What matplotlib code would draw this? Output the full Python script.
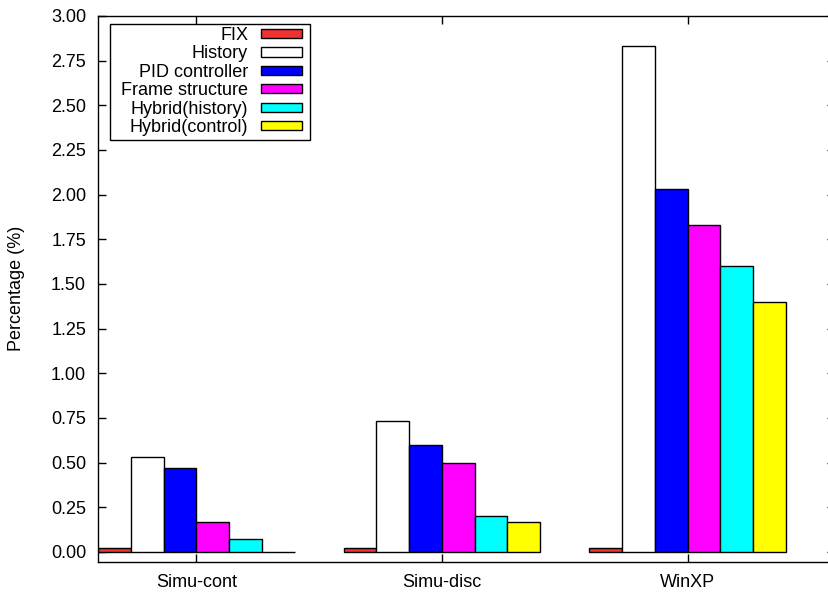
import matplotlib
matplotlib.use("Agg")
import matplotlib.pyplot as plt
from matplotlib.patches import Rectangle
import numpy as np

plt.rcParams['font.family'] = ['Liberation Sans', 'DejaVu Sans']
plt.rcParams['font.size'] = 13

# Workloads on the x axis
categories = ["Simu-cont", "Simu-disc", "WinXP"]

# Percentage per scheme and workload
series_names = ["FIX", "History", "PID controller", "Frame structure",
                "Hybrid(history)", "Hybrid(control)"]
fix = [0.02, 0.02, 0.02]
history = [0.53, 0.73, 2.83]
pid_controller = [0.47, 0.60, 2.03]
frame_structure = [0.17, 0.50, 1.83]
hybrid_history = [0.07, 0.20, 1.60]
hybrid_control = [0.00, 0.17, 1.40]
series_values = [fix, history, pid_controller, frame_structure,
                 hybrid_history, hybrid_control]
series_colors = ["#f03232", "#ffffff", "#0000ff", "#ff00ff", "#00ffff", "#ffff00"]

y_ticks = np.arange(0, 3.01, 0.25)

W, H = 829, 593
FS = 13
fig = plt.figure(figsize=(W / 100, H / 100), dpi=100)
ax = fig.add_axes([98 / W, 1 - 561.7 / H, 737 / W, (561.7 - 16) / H])

x = np.arange(len(categories))
n = len(series_names)
bar_w = 1 / 7.5
handles = []
for i, (name, vals, col) in enumerate(zip(series_names, series_values, series_colors)):
    offs = (i - (n - 1) / 2) * bar_w
    b = ax.bar(x + offs, vals, width=bar_w, color=col, edgecolor="black",
               linewidth=1.0, label=name, zorder=2)
    handles.append(b)

ax.set_xlim(-0.4, 2.6)
ax.set_ylim(-0.055, 3.0)
ax.set_xticks(x)
ax.set_xticklabels(categories)
ax.set_yticks(y_ticks)
ax.set_yticklabels([f"{v:.2f}" for v in y_ticks])
ax.tick_params(axis="both", direction="in", length=6, width=1.0,
               top=True, right=True, labelsize=FS)
ax.tick_params(axis="y", pad=8.6)
ax.tick_params(axis="x", pad=9.0)
for s in ax.spines.values():
    s.set_linewidth(1.0)

ax.set_ylabel("Percentage (%)", fontsize=FS)
ax.yaxis.set_label_coords(-0.099, 0.5)

# Key box (pixel extents converted to figure fractions)
bx0, by0, bx1, by1 = 110, 24, 310, 140
fig.patches.append(Rectangle((bx0 / W, 1 - by1 / H), (bx1 - bx0) / W, (by1 - by0) / H,
                             transform=fig.transFigure, facecolor="white",
                             edgecolor="black", linewidth=1.0, zorder=4))

leg = fig.legend(handles=handles, loc="upper right",
                 bbox_to_anchor=(302 / W, 1 - 27 / H), borderaxespad=0,
                 markerfirst=False, frameon=False, handlelength=2.27,
                 handleheight=0.4, handletextpad=0.72, labelspacing=0.08,
                 borderpad=0, fontsize=FS)
leg.set_zorder(5)

fig.savefig("out.png", dpi=100)
